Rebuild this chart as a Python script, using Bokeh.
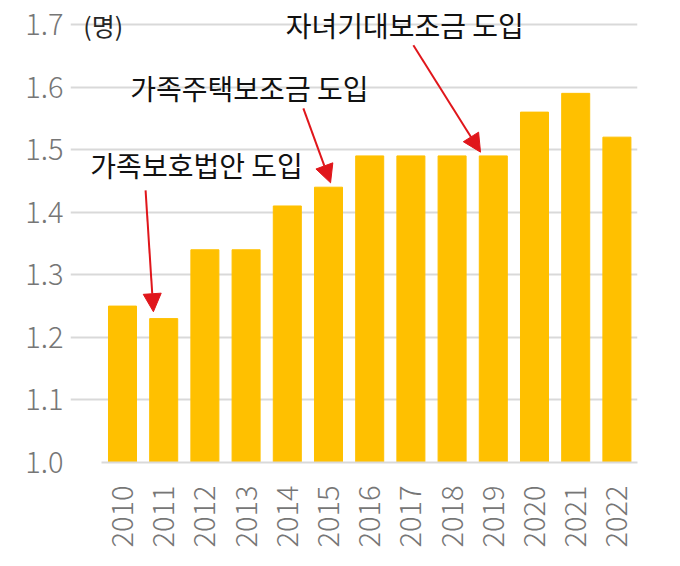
from math import pi

from bokeh.models import (Arrow, FixedTicker, Label, NormalHead, Range1d)
from bokeh.plotting import figure
from bokeh.embed import file_html
from bokeh.resources import INLINE

years = ["2010", "2011", "2012", "2013", "2014", "2015", "2016",
         "2017", "2018", "2019", "2020", "2021", "2022"]
rate = [1.25, 1.23, 1.34, 1.34, 1.41, 1.44, 1.49, 1.49, 1.49, 1.49, 1.56, 1.59, 1.52]
y_ticks = [1.0, 1.1, 1.2, 1.3, 1.4, 1.5, 1.6, 1.7]
unit = "(명)"

# (text, text x, text y, arrow start x, start y, tip x, tip y)
notes = [
    ("가족보호법안 도입", -0.78, 1.475, 0.56, 1.435, 0.75, 1.241),
    ("가족주택보조금 도입", 0.19, 1.598, 4.39, 1.566, 5.05, 1.447),
    ("자녀기대보조금 도입", 3.96, 1.699, 7.06, 1.667, 8.69, 1.496),
]

x = list(range(len(years)))

# frame runs wider than the bars so the notes are not clipped
p = figure(width=664, height=550, output_backend="svg", toolbar_location=None,
           x_range=Range1d(-1.262, len(years) - 0.5), y_range=Range1d(1.0, 1.7384),
           min_border_left=70, min_border_right=27, min_border_top=0,
           min_border_bottom=87)
p.outline_line_color = None
p.background_fill_color = "white"

p.vbar(x=x, top=rate, bottom=1.0, width=0.68, color="#FFC000")

tick_font = "Noto Sans CJK KR Light"

p.xaxis.ticker = FixedTicker(ticks=x)
p.xaxis.bounds = (-0.5, len(years) - 0.5)
p.xaxis.major_label_overrides = {i: y for i, y in enumerate(years)}
p.xaxis.major_label_orientation = pi / 2
p.xaxis.major_label_standoff = 17
p.xaxis.major_tick_line_color = None
p.xaxis.minor_tick_line_color = None
p.xaxis.axis_line_color = "#d9d9d9"
p.xaxis.axis_line_width = 2
p.xaxis.major_label_text_font = tick_font
p.xaxis.major_label_text_font_size = "29px"
p.xaxis.major_label_text_color = "#767676"

p.yaxis.ticker = FixedTicker(ticks=y_ticks)
p.yaxis.major_label_overrides = {t: f"{t:.1f}" for t in y_ticks}
p.yaxis.major_label_standoff = 1
p.yaxis.major_tick_line_color = None
p.yaxis.minor_tick_line_color = None
p.yaxis.axis_line_color = None
p.yaxis.major_label_text_font = tick_font
p.yaxis.major_label_text_font_size = "29px"
p.yaxis.major_label_text_color = "#767676"

p.xgrid.grid_line_color = None
p.ygrid.ticker = FixedTicker(ticks=y_ticks)
p.ygrid.bounds = (-0.5, len(years) - 0.5)
p.ygrid.grid_line_color = "#d9d9d9"
p.ygrid.grid_line_width = 2

p.add_layout(Label(x=-0.95, y=1.7, text=unit, text_font="Noto Sans CJK KR",
                   text_font_size="25px", text_color="#262626",
                   text_baseline="middle"))

for text, tx, ty, sx, sy, ex, ey in notes:
    p.add_layout(Label(x=tx, y=ty, text=text, text_font="Noto Sans CJK KR",
                       text_font_size="28px", text_color="#111111",
                       text_baseline="middle"))
    p.add_layout(Arrow(x_start=sx, y_start=sy, x_end=ex, y_end=ey,
                       line_color="#e0161b", line_width=2,
                       end=NormalHead(size=18, fill_color="#e0161b",
                                      line_color="#e0161b")))

open("out.html", "w").write(file_html(p, INLINE))
